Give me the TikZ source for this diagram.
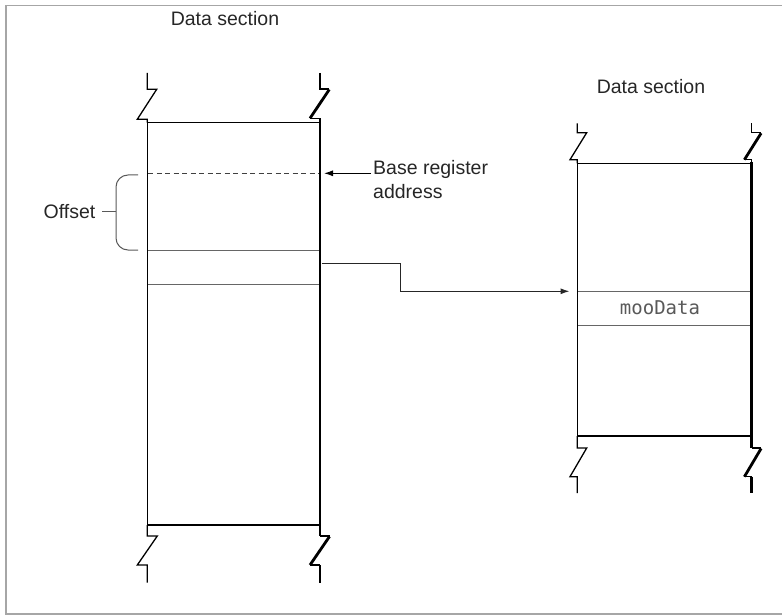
\documentclass[tikz,border=0pt]{standalone}
\usepackage{fontspec}
\setmainfont{Liberation Sans}
\setmonofont{DejaVu Sans Mono}
\usetikzlibrary{arrows.meta}
\begin{document}
\begin{tikzpicture}[x=1pt,y=-1pt,
  frame/.style={draw=black!35, line width=1.5pt},
  thinedge/.style={line width=1.4pt, line join=miter},
  thickedge/.style={line width=2.8pt},
  edge/.style={line width=1.3pt},
  inner/.style={draw=black!60, line width=1pt},
  lbl/.style={font=\fontsize{19.5}{24}\selectfont, text=black!85, inner sep=0pt},
  conn/.style={line width=1.1pt, draw=black!85, -{Latex[length=9pt,width=6pt]}}
]
\useasboundingbox (0,0) rectangle (782,615);
\draw[frame] (790,5.5) -- (6,5.5) -- (6,614) -- (790,614);

% ---------- left column ----------
\coordinate (LTL) at (147.3,122.7);
\coordinate (LTR) at (320,122.7);
\coordinate (LBL) at (147.3,525);
\coordinate (LBR) at (320,525);
\draw[thinedge] (LTL) -- (LTR);
\draw[thinedge] (LBL) -- (LBR);
\draw[edge] (LTL) -- (LBL);
\draw[thickedge] (320,121.5) -- (320,526.2);
% left top break
\draw[edge] (147.3,73) -- ++(0,16.3) -- ++(9.4,0) -- ++(-19.4,30) -- ++(10,0) -- (LTL);
% right top break
\draw[edge] (320,73) -- ++(0,16) -- ++(9.3,0);
\draw[thickedge] (329.3,89.5) -- (310,118.3);
\draw[edge] (310,118.3) -- (320,118.3) -- (LTR);
% left bottom break
\draw[edge] (LBL) -- (147.3,536) -- ++(10,0) -- ++(-20,29) -- ++(10,0) -- (147.3,582.7);
% right bottom break
\draw[edge] (320,536) -- ++(9.5,0);
\draw[thickedge] (LBR) -- (320,536);
\draw[thickedge] (329.5,536.5) -- (310,565);
\draw[edge] (310,565) -- (320,565);
\draw[thickedge] (320,565) -- (320,582.7);

% inner lines
\draw[dashed, draw=black!75, line width=1pt, dash pattern=on 5pt off 3.5pt] (148,173.3) -- (318.5,173.3);
\draw[inner] (148,250) -- (318.5,250);
\draw[inner] (148,284) -- (318.5,284);

\node[lbl] (lsec) at (225,19) {Data section};

% offset brace
\draw[draw=black!65, line width=1pt, rounded corners=12pt] (138,175) -- (116,175) -- (116,250) -- (138,250);
\coordinate (braceTip) at (116,211.5);
\node[lbl, anchor=east] (offset) at (95.5,211.5) {Offset};
\draw[draw=black!65, line width=1pt] (braceTip) -- (102,211.5);

% base register
\node[lbl, anchor=north west, align=left] (base) at (373,160) {Base register\\address};
\coordinate (baseArrowStart) at (371,173.3);
\coordinate (baseArrowEnd) at (324,173.3);
\draw[line width=1pt, -{Latex[length=9pt,width=6pt]}] (baseArrowStart) -- (baseArrowEnd);

% ---------- right column ----------
\coordinate (RTL) at (577.3,163.3);
\coordinate (RTR) at (751.7,163.3);
\coordinate (RBL) at (577.3,436);
\coordinate (RBR) at (751.7,436);
\draw[thinedge] (RTL) -- (RTR);
\draw[thinedge] (RBL) -- (RBR);
\draw[edge] (RTL) -- (RBL);
\draw[thickedge] (751.7,162) -- (751.7,437.2);
% top breaks
\draw[edge] (577.3,123.3) -- ++(0,9.4) -- ++(9.4,0) -- ++(-16.7,27) -- ++(7.3,0) -- (RTL);
\draw[edge] (751.7,123.3) -- ++(0,9.4) -- ++(9.4,0);
\draw[thickedge] (761.1,133.2) -- (744.4,159.7);
\draw[edge] (744.4,159.7) -- (751.7,159.7) -- (RTR);
% bottom breaks
\draw[edge] (RBL) -- (577.3,448) -- ++(9.4,0) -- ++(-16.7,28.7) -- ++(7.3,0) -- (577.3,493);
\draw[thickedge] (RBR) -- (751.7,448);
\draw[edge] (751.7,448) -- ++(9.4,0);
\draw[thickedge] (761.1,448.5) -- (744.4,476.7);
\draw[edge] (744.4,476.7) -- (751.7,476.7);
\draw[thickedge] (751.7,476.7) -- (751.7,493);

\draw[inner] (578,291) -- (750.2,291);
\draw[inner] (578,325) -- (750.2,325);
\node[inner sep=0pt, font=\ttfamily\fontsize{19}{24}\selectfont, text=black!65] (moo) at (660,308) {mooData};

\node[lbl] (rsec) at (651,87) {Data section};

% connector
\coordinate (cStart) at (321.5,263.3);
\coordinate (cBend) at (400.7,263.3);
\coordinate (cEnd) at (569.5,291.3);
\draw[conn] (cStart) -- (cBend) |- (cEnd);
\end{tikzpicture}
\end{document}
